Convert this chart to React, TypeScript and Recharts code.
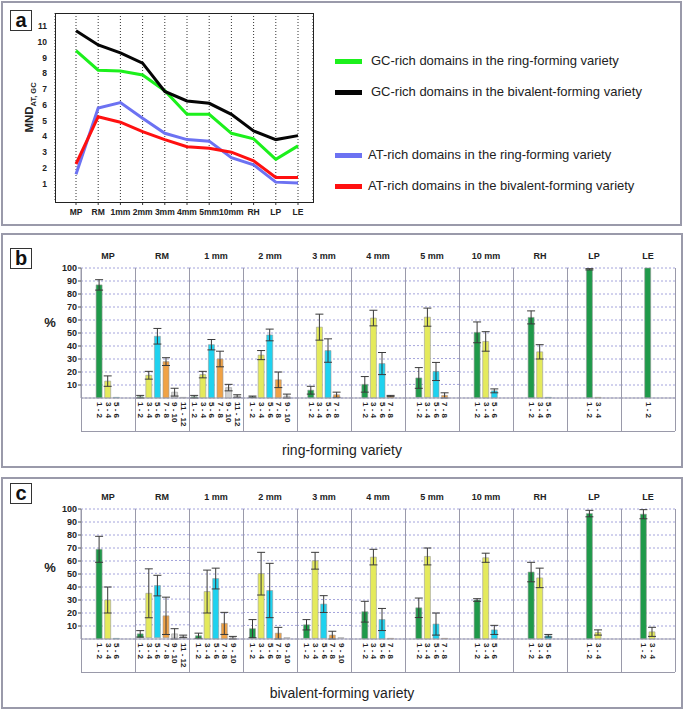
import React from 'react';
import {
  LineChart,
  Line,
  BarChart,
  Bar,
  XAxis,
  YAxis,
  CartesianGrid,
  ErrorBar,
  Cell
} from 'recharts';

const FONT = '"Liberation Sans", Arial, Helvetica, sans-serif';

// panel a: mean number of domains along the root
const positions = ['MP', 'RM', '1mm', '2mm', '3mm', '4mm', '5mm', '10mm', 'RH', 'LP', 'LE'];
const gcRing = [9.45, 8.2, 8.15, 7.9, 6.9, 5.4, 5.4, 4.2, 3.85, 2.55, 3.4];
const gcBivalent = [10.7, 9.8, 9.3, 8.65, 6.85, 6.25, 6.1, 5.4, 4.35, 3.8, 4.05];
const atRing = [1.6, 5.8, 6.15, 5.15, 4.2, 3.8, 3.7, 2.65, 2.2, 1.1, 1.05];
const atBivalent = [2.25, 5.25, 4.9, 4.3, 3.8, 3.35, 3.25, 3.0, 2.45, 1.4, 1.4];
const mndTicks = [1, 2, 3, 4, 5, 6, 7, 8, 9, 10, 11];

const lineSeries = [
  { key: 'gcRing', values: gcRing, color: '#1cf01c', name: 'GC-rich domains in the ring-forming variety' },
  { key: 'gcBivalent', values: gcBivalent, color: '#050505', name: 'GC-rich domains in the bivalent-forming variety' },
  { key: 'atRing', values: atRing, color: '#6c72f2', name: 'AT-rich domains in the ring-forming variety' },
  { key: 'atBivalent', values: atBivalent, color: '#ff1010', name: 'AT-rich domains in the bivalent-forming variety' }
];

// panels b and c: % of cells by number of domains
const sections = ['MP', 'RM', '1 mm', '2 mm', '3 mm', '4 mm', '5 mm', '10 mm', 'RH', 'LP', 'LE'];
const percentTicks = [10, 20, 30, 40, 50, 60, 70, 80, 90, 100];

const ringClasses = [
  ['1 - 2', '3 - 4', '5 - 6'],
  ['1 - 2', '3 - 4', '5 - 6', '7 - 8', '9 - 10', '11 - 12'],
  ['1 - 2', '3 - 4', '5 - 6', '7 - 8', '9 - 10', '11 - 12'],
  ['1 - 2', '3 - 4', '5 - 6', '7 - 8', '9 - 10'],
  ['1 - 2', '3 - 4', '5 - 6', '7 - 8'],
  ['1 - 2', '3 - 4', '5 - 6', '7 - 8'],
  ['1 - 2', '3 - 4', '5 - 6', '7 - 8'],
  ['1 - 2', '3 - 4', '5 - 6'],
  ['1 - 2', '3 - 4', '5 - 6'],
  ['1 - 2', '3 - 4'],
  ['1 - 2']
];
const ringValues = [
  [87, 13, 0.5],
  [1, 17.5, 47.5, 28, 4.5, 0.5],
  [1, 18, 41, 30, 8, 1.5],
  [1, 33, 48.5, 14, 1.5],
  [6, 54.5, 36.5, 2.5],
  [10.5, 61.5, 26.5, 1.5],
  [15, 62, 20, 1.5],
  [50.5, 43.5, 5.5],
  [62, 35.5, 0.5],
  [99, 0.5],
  [100]
];
const ringErrors = [
  [4, 4, 0],
  [1, 3, 6, 3, 3, 0],
  [1, 2.5, 4, 6, 2.5, 1],
  [0.5, 3.5, 4.5, 6, 1.5],
  [3, 10, 9, 2],
  [6, 6, 8.5, 0.5],
  [8, 7, 7, 2],
  [8, 7.5, 1.5],
  [5, 5.5, 0],
  [0.5, 0],
  [0]
];

const bivalentClasses = [
  ['1 - 2', '3 - 4', '5 - 6'],
  ['1 - 2', '3 - 4', '5 - 6', '7 - 8', '9 - 10', '11 - 12'],
  ['1 - 2', '3 - 4', '5 - 6', '7 - 8', '9 - 10'],
  ['1 - 2', '3 - 4', '5 - 6', '7 - 8', '9 - 10'],
  ['1 - 2', '3 - 4', '5 - 6', '7 - 8', '9 - 10'],
  ['1 - 2', '3 - 4', '5 - 6', '7 - 8'],
  ['1 - 2', '3 - 4', '5 - 6', '7 - 8'],
  ['1 - 2', '3 - 4', '5 - 6'],
  ['1 - 2', '3 - 4', '5 - 6'],
  ['1 - 2', '3 - 4'],
  ['1 - 2', '3 - 4']
];
const bivalentValues = [
  [69, 30, 0.5],
  [3, 34.5, 40.5, 17, 3, 1],
  [2.5, 36.5, 46.5, 12, 1],
  [7.5, 50, 37, 4, 0.5],
  [10.5, 60, 26.5, 2.5, 0.5],
  [21, 63, 15, 0.5],
  [24, 63.5, 11.5, 0.5],
  [30, 62.5, 7],
  [51.5, 47, 2.5],
  [96.5, 5],
  [96, 5.5]
];
const bivalentErrors = [
  [10, 10, 0],
  [2.5, 19, 8, 14.5, 4, 1],
  [2, 16.5, 8, 8.5, 1],
  [7, 16.5, 21, 4.5, 0],
  [4, 6.5, 6.5, 3, 0],
  [8, 6, 8.5, 0],
  [7.5, 6.5, 8.5, 0],
  [1, 3.5, 3.5],
  [7.5, 7.5, 1],
  [2.5, 2],
  [3.5, 3.5]
];

const classColors: Record<string, string> = {
  '1 - 2': '#1f9a4a',
  '3 - 4': '#e4ea5c',
  '5 - 6': '#1fd2ef',
  '7 - 8': '#f0a246',
  '9 - 10': '#d2d2d2',
  '11 - 12': '#d6d6d6'
};

const lineData = positions.map((pos, i) => {
  const row: Record<string, string | number> = { pos };
  lineSeries.forEach(s => { row[s.key] = s.values[i]; });
  return row;
});

const FRAME = '#9a9aaa';
const PLOT_LEFT = 81;
const GROUP_W = 54;
const SLOT = 8.6;
const TOP_PAD = 6;
const PLOT_H = 130;
const AXIS_H = 33;
const Y_AXIS_W = 45;

function LetterBox({ letter, left, top }: { letter: string; left: number; top: number }) {
  return (
    <div style={{
      position: 'absolute', left, top, width: 22, height: 21, boxSizing: 'border-box',
      border: '1.5px solid #333', fontFamily: FONT, fontWeight: 'bold', fontSize: 20,
      lineHeight: '18px', textAlign: 'center', color: '#111'
    }}>{letter}</div>
  );
}

function ClassTick(props: any) {
  const { x, y, payload } = props;
  return (
    <text x={x} y={y} transform={`rotate(90, ${x}, ${y})`} textAnchor="start" dominantBaseline="central"
      fontFamily={FONT} fontSize={8} fontWeight="bold" fill="#222">
      {payload.value}
    </text>
  );
}

function SectionChart({ classes, values, errors, left, top, withAxis }: any) {
  const data = classes.map((c: string, i: number) => ({ cls: c, value: values[i], err: errors[i] || null }));
  const pad = (GROUP_W - classes.length * SLOT) / 2;
  const axisW = withAxis ? Y_AXIS_W : 0;
  return (
    <div style={{ position: 'absolute', left: left - axisW, top }}>
      <BarChart width={GROUP_W + axisW} height={TOP_PAD + PLOT_H + AXIS_H} data={data}
        margin={{ top: TOP_PAD, right: 0, bottom: 0, left: 0 }} barSize={6}>
        <CartesianGrid vertical={false} stroke="#a4a4dc" strokeDasharray="2 2" />
        <XAxis dataKey="cls" height={AXIS_H} interval={0} padding={{ left: pad, right: pad }}
          axisLine={{ stroke: FRAME }} tickLine={false} tickSize={0} tickMargin={4} tick={<ClassTick />} />
        <YAxis domain={[0, 100]} ticks={percentTicks} interval={0} width={axisW} hide={!withAxis}
          axisLine={{ stroke: FRAME }} tickLine={{ stroke: '#555' }} tickSize={3} tickMargin={1}
          tick={{ fontFamily: FONT, fontSize: 9, fontWeight: 'bold', fill: '#222' }} />
        <Bar dataKey="value" isAnimationActive={false} stroke="#9a9a9a" strokeWidth={0.6}>
          {data.map((d: any) => <Cell key={d.cls} fill={classColors[d.cls]} />)}
          <ErrorBar dataKey="err" width={4} stroke="#3a3a3a" strokeWidth={1} direction="y" isAnimationActive={false} />
        </Bar>
      </BarChart>
    </div>
  );
}

function BarPanel(props: any) {
  const { letter, frameTop, frameHeight, letterTop, titleY, plotTop, percentY, captionY, caption,
    classes, values, errors } = props;
  const boxBottom = plotTop + PLOT_H + AXIS_H;
  return (
    <>
      <div style={{
        position: 'absolute', left: 1, top: frameTop, width: 682, height: frameHeight,
        boxSizing: 'border-box', border: `2px solid ${FRAME}`
      }} />
      <LetterBox letter={letter} left={10} top={letterTop} />
      <div style={{
        position: 'absolute', left: 36, top: percentY - 8, width: 28, height: 16, lineHeight: '16px',
        textAlign: 'center', fontFamily: FONT, fontWeight: 'bold', fontSize: 13, color: '#222'
      }}>%</div>
      {sections.map((s, i) => (
        <React.Fragment key={s}>
          <div style={{
            position: 'absolute', left: PLOT_LEFT + i * GROUP_W, top: titleY - 6, width: GROUP_W,
            height: 12, lineHeight: '12px', textAlign: 'center', fontFamily: FONT, fontWeight: 'bold',
            fontSize: 9, color: '#222'
          }}>{s}</div>
          <SectionChart classes={classes[i]} values={values[i]} errors={errors[i]}
            left={PLOT_LEFT + i * GROUP_W} top={plotTop - TOP_PAD} withAxis={i === 0} />
        </React.Fragment>
      ))}
      {sections.concat(['end']).map((s, i) => (
        <div key={'div' + s} style={{
          position: 'absolute', left: PLOT_LEFT + i * GROUP_W - 0.5, top: plotTop, width: 1,
          height: boxBottom - plotTop, background: FRAME
        }} />
      ))}
      <div style={{
        position: 'absolute', left: PLOT_LEFT, top: boxBottom - 0.5, width: sections.length * GROUP_W,
        height: 1, background: FRAME
      }} />
      <div style={{
        position: 'absolute', left: 192, top: captionY - 9, width: 300, height: 18, lineHeight: '18px',
        textAlign: 'center', fontFamily: FONT, fontSize: 14, color: '#222'
      }}>{caption}</div>
    </>
  );
}

function MndLabel() {
  return (
    <text transform="translate(33,107.5) rotate(-90)" textAnchor="middle" fontFamily={FONT}
      fontWeight="bold" fill="#222" fontSize={11.5}>
      MND<tspan fontSize={7.5} dy={2.5}>AT, GC</tspan>
    </text>
  );
}

const legendRows = [61, 92, 155, 186];

export default function App() {
  return (
    <div style={{ position: 'absolute', left: 0, top: 0, width: 684, height: 711, background: '#fff', overflow: 'hidden' }}>
      {/* panel a */}
      <div style={{
        position: 'absolute', left: 1, top: 1, width: 681, height: 225,
        boxSizing: 'border-box', border: `2px solid ${FRAME}`
      }} />
      <LetterBox letter="a" left={10} top={10} />
      <div style={{ position: 'absolute', left: 0, top: 0 }}>
        <LineChart width={320} height={226} data={lineData} margin={{ top: 13, right: 7, bottom: 0, left: 0 }}>
          <CartesianGrid horizontal={false} stroke="#333" strokeDasharray="1 2" />
          <XAxis dataKey="pos" height={24} interval={0} padding={{ left: 21, right: 15 }}
            axisLine={false} tickLine={{ stroke: '#333' }} tickSize={3} tickMargin={4}
            tick={{ fontFamily: FONT, fontSize: 8.5, fontWeight: 'bold', fill: '#222' }} />
          <YAxis domain={[-0.16, 11.83]} ticks={mndTicks} interval={0} width={55} axisLine={false} tickLine={false}
            tickSize={0} tickMargin={8} label={{ content: () => <MndLabel /> }}
            tick={{ fontFamily: FONT, fontSize: 8.5, fontWeight: 'bold', fill: '#222' }} />
          {lineSeries.map(s => (
            <Line key={s.key} dataKey={s.key} name={s.name} stroke={s.color} strokeWidth={3}
              dot={false} type="linear" isAnimationActive={false} />
          ))}
        </LineChart>
      </div>
      <div style={{
        position: 'absolute', left: 54.5, top: 12.5, width: 259, height: 190,
        boxSizing: 'border-box', border: '1.5px solid #222', pointerEvents: 'none'
      }} />
      {lineSeries.map((s, i) => (
        <React.Fragment key={s.key}>
          <div style={{
            position: 'absolute', left: 335, top: legendRows[i] - 2.5, width: 27, height: 5, background: s.color
          }} />
          <div style={{
            position: 'absolute', left: i < 2 ? 371 : 368, top: legendRows[i] - 9, height: 18, lineHeight: '18px',
            whiteSpace: 'nowrap', fontFamily: FONT, fontSize: 13, color: '#222'
          }}>{s.name}</div>
        </React.Fragment>
      ))}

      {/* panel b */}
      <BarPanel letter="b" frameTop={233} frameHeight={235} letterTop={248} titleY={255.7} plotTop={268}
        percentY={323} captionY={450} caption="ring-forming variety"
        classes={ringClasses} values={ringValues} errors={ringErrors} />

      {/* panel c */}
      <BarPanel letter="c" frameTop={477} frameHeight={232} letterTop={483} titleY={496.7} plotTop={509}
        percentY={568} captionY={692.5} caption="bivalent-forming variety"
        classes={bivalentClasses} values={bivalentValues} errors={bivalentErrors} />
    </div>
  );
}
